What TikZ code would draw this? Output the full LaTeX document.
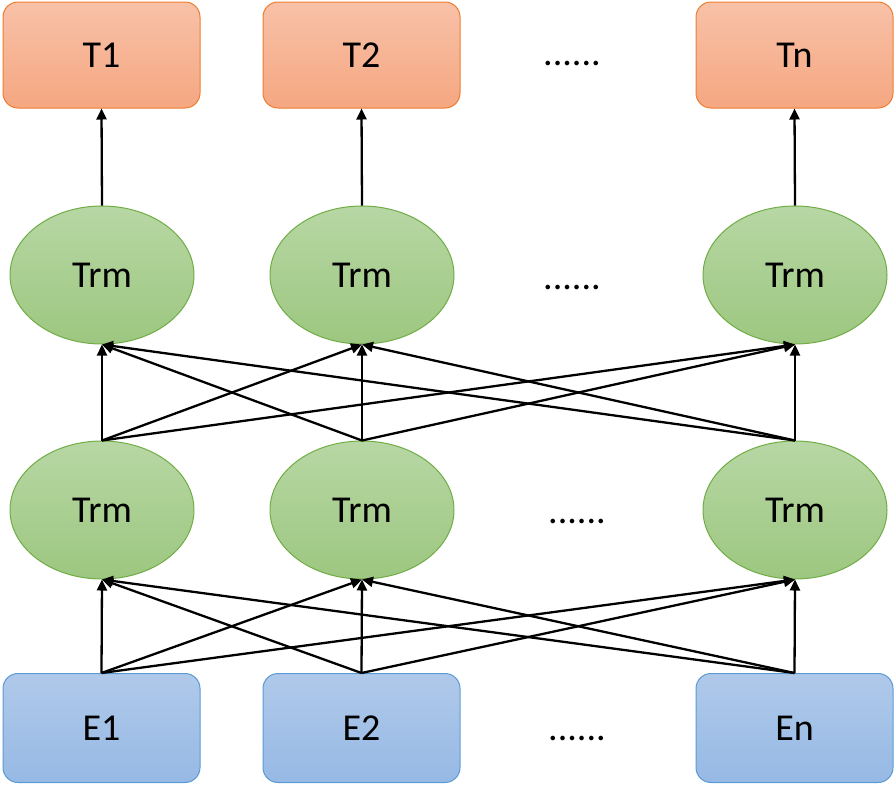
\documentclass[tikz,border=0pt]{standalone}
\usepackage{fontspec}
\setmainfont{Carlito}
\usetikzlibrary{shapes.geometric,arrows.meta}
\definecolor{orfill1}{RGB}{248,193,168}
\definecolor{orfill2}{RGB}{245,167,129}
\definecolor{ordraw}{RGB}{237,125,49}
\definecolor{grfill1}{RGB}{183,215,164}
\definecolor{grfill2}{RGB}{157,199,128}
\definecolor{grdraw}{RGB}{112,173,71}
\definecolor{blfill1}{RGB}{176,201,234}
\definecolor{blfill2}{RGB}{150,185,228}
\definecolor{bldraw}{RGB}{91,155,213}
\begin{document}
\begin{tikzpicture}[x=1pt,y=-1pt,
  txt/.style={font=\fontsize{38}{40}\selectfont},
  tbox/.style={txt,rectangle,rounded corners=15pt,minimum width=197pt,minimum height=106pt,inner sep=0pt,draw=ordraw,line width=1pt,top color=orfill1,bottom color=orfill2},
  ebox/.style={txt,rectangle,rounded corners=15pt,minimum width=197pt,minimum height=109pt,inner sep=0pt,draw=bldraw,line width=1pt,top color=blfill1,bottom color=blfill2},
  trm/.style={txt,ellipse,minimum width=184pt,minimum height=138pt,inner sep=0pt,draw=grdraw,line width=1pt,top color=grfill1,bottom color=grfill2},
  dots/.style={txt,anchor=base,inner sep=0pt},
  arr/.style={line width=2.3pt,-{Triangle[length=11pt,width=10pt]}}]
\useasboundingbox (0,0) rectangle (896,785);
% top boxes
\node[tbox] (t1) at (101.5,55) {T1};
\node[tbox] (t2) at (361.5,55) {T2};
\node[tbox] (tn) at (794.5,55) {Tn};
% upper Trm
\node[trm] (u1) at (102,275) {Trm};
\node[trm] (u2) at (362,275) {Trm};
\node[trm] (un) at (795,275) {Trm};
% lower Trm
\node[trm] (l1) at (102,510) {Trm};
\node[trm] (l2) at (362,510) {Trm};
\node[trm] (ln) at (795,510) {Trm};
% E boxes
\node[ebox] (e1) at (101.5,728) {E1};
\node[ebox] (e2) at (361.5,728) {E2};
\node[ebox] (en) at (794.5,728) {En};
% dots
\node[dots] (d1) at (572,65) {......};
\node[dots] (d2) at (572,289) {......};
\node[dots] (d3) at (577,523) {......};
\node[dots] (d4) at (577,740) {......};
% arrows E -> lower
\foreach \a in {e1,e2,en}{
  \foreach \b in {l1,l2,ln}{
    \draw[arr] (\a.north) -- (\b.south);
  }
}
% lower -> upper
\foreach \a in {l1,l2,ln}{
  \foreach \b in {u1,u2,un}{
    \draw[arr] (\a.north) -- (\b.south);
  }
}
% upper -> T
\draw[arr] (u1.north) -- (t1.south);
\draw[arr] (u2.north) -- (t2.south);
\draw[arr] (un.north) -- (tn.south);
\end{tikzpicture}
\end{document}
